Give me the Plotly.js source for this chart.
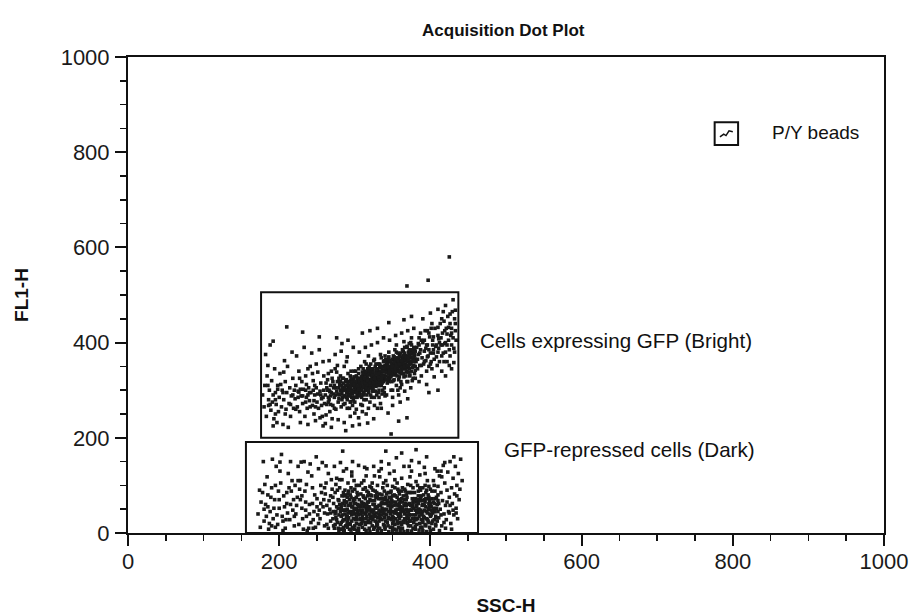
<!DOCTYPE html>
<html>
<head>
<meta charset="utf-8">
<script src="https://cdn.plot.ly/plotly-3.0.1.min.js"></script>
<style>html,body{margin:0;padding:0;background:#fff;}#chart{width:915px;height:616px;}</style>
</head>
<body>
<div id="chart"></div>
<script>
// ---- DATA (SSC-H, FL1-H) ----
const brightPoints = [
[178,290],[180,265],[181,310],[183,245],[184,330],[186,280],[187,300],[189,258],[190,320],[191,275],[193,240],[194,345],[195,295],[196,270],[198,310],[199,255],[200,285],[201,335],[203,265],[204,300],[205,228],[206,280],[208,318],[209,260],[210,295],[211,350],[213,272],[214,305],[215,245],[216,288],[218,325],[219,262],[220,300],[182,375],[188,395],[197,232],[207,362],[212,222],[217,380],[185,352],[192,290],[202,312],[186,268],[195,250],[206,338],[192,403],[210,433],[231,422],[192,225],
[221,282],[222,310],[224,265],[225,298],[226,340],[227,255],[229,288],[230,318],[231,272],[232,302],[234,245],[235,330],[236,285],[237,262],[239,305],[240,278],[241,350],[242,295],[244,268],[245,320],[246,250],[247,290],[249,305],[250,275],[251,338],[252,262],[254,298],[255,315],[256,282],[257,245],[258,360],[259,300],[260,272],[223,372],[228,232],[233,390],[238,228],[243,378],[248,236],[253,385],[258,225],[226,296],[231,288],[236,312],[241,265],[246,278],[251,292],[256,268],[244,335],[238,345],[249,355],[253,412],[222,260],[235,300],[247,310],[259,330],[254,242],[240,295],[227,325],
[261,290],[262,315],[263,270],[264,300],[265,335],[266,280],[267,255],[268,310],[269,295],[270,325],[271,268],[272,305],[273,285],[274,345],[275,260],[276,298],[277,318],[278,275],[279,305],[280,290],[281,330],[282,265],[283,310],[284,285],[285,300],[286,350],[287,272],[288,318],[289,295],[290,280],[291,335],[292,305],[293,262],[294,292],[295,320],[296,285],[297,310],[298,298],[299,340],[300,275],[262,248],[266,362],[270,240],[274,375],[278,238],[282,382],[286,232],[290,370],[294,245],[298,390],[264,322],[268,288],[272,292],[276,338],[280,312],[284,325],[288,302],[292,288],[296,300],[300,318],[263,305],[267,297],[271,318],[275,290],[279,282],[283,295],[287,288],[291,296],[295,276],[299,305],[265,275],[269,340],[273,262],[277,352],[281,300],[285,270],[289,360],[293,318],[297,268],[276,410],[288,215],[269,222],[297,225],[283,398],[261,230],[291,405],[285,315],[279,325],[273,310],[266,300],[294,330],[298,285],
[301,300],[302,330],[303,285],[304,315],[305,345],[306,295],[307,325],[308,270],[309,308],[310,338],[311,290],[312,318],[313,360],[314,300],[315,280],[316,330],[317,312],[318,295],[319,350],[320,322],[321,305],[322,285],[323,340],[324,315],[325,298],[326,365],[327,328],[328,308],[329,290],[330,345],[331,318],[332,300],[333,335],[334,375],[335,310],[336,292],[337,350],[338,325],[339,305],[340,340],[302,260],[306,380],[310,255],[314,390],[318,262],[322,395],[326,268],[330,400],[334,272],[338,410],[304,298],[308,312],[312,305],[316,290],[320,335],[324,345],[328,320],[332,328],[336,315],[340,322],[303,318],[307,302],[311,330],[315,318],[319,308],[323,325],[327,298],[331,355],[335,340],[339,330],[305,288],[309,322],[313,340],[317,345],[321,290],[325,330],[329,312],[333,310],[337,300],[305,242],[315,250],[325,240],[335,262],[310,420],[320,425],[330,430],[340,372],[312,280],[322,312],[332,285],[318,372],[328,355],[338,360],[308,350],[301,340],[326,285],[336,332],[316,305],[311,295],[321,355],[331,338],[303,302],[334,320],[324,300],
[341,330],[342,355],[343,315],[344,345],[345,370],[346,325],[347,350],[348,300],[349,338],[350,365],[351,320],[352,348],[353,385],[354,332],[355,310],[356,358],[357,342],[358,322],[359,375],[360,350],[361,335],[362,312],[363,368],[364,345],[365,328],[366,390],[367,355],[368,338],[369,318],[370,372],[371,348],[372,330],[373,360],[374,400],[375,340],[376,320],[377,378],[378,352],[379,335],[380,365],[342,290],[346,405],[350,285],[354,415],[358,290],[362,420],[366,298],[370,425],[374,305],[378,430],[344,328],[348,342],[352,336],[356,330],[360,362],[364,372],[368,352],[372,345],[376,348],[380,350],[343,342],[347,335],[351,355],[355,345],[359,338],[363,352],[367,330],[371,380],[375,360],[379,385],[345,318],[349,352],[353,360],[357,362],[361,318],[365,355],[369,340],[373,332],[377,325],[350,268],[360,275],[370,282],[345,442],[365,448],[375,455],[355,380],[367,372],[357,300],[372,398],[362,340],[352,322],
[381,360],[382,390],[383,345],[384,375],[385,410],[386,352],[387,385],[388,330],[389,368],[390,400],[391,355],[392,382],[393,425],[394,362],[395,340],[396,395],[397,372],[398,350],[399,412],[400,378],[401,360],[402,345],[403,405],[404,385],[405,365],[406,430],[407,392],[408,370],[409,352],[410,415],[411,388],[412,360],[413,440],[414,395],[415,372],[416,420],[417,378],[418,445],[419,398],[420,380],[421,430],[422,360],[423,455],[424,405],[425,385],[426,440],[427,415],[428,395],[429,465],[430,410],[431,388],[432,450],[433,425],[434,405],[385,318],[395,312],[405,328],[415,340],[425,352],[390,450],[400,462],[410,470],[420,478],[430,490],[384,398],[392,360],[398,385],[404,412],[410,380],[416,395],[422,418],[428,420],[388,405],[396,425],[402,440],[408,395],[414,410],[420,400],[426,372],[432,380],[386,378],[394,388],[400,355],[412,400],[418,360],[424,432],[433,440],[398,295],[410,300],[420,330],[431,358],[428,345],
[344,252],[317,231],[348,208],[369,242],[306,228],[358,235],[425,580],[397,531],[369,519],
[282,292],[284,305],[286,288],[288,310],[290,296],[292,318],[294,300],[296,312],[298,322],[300,296],[302,308],[304,325],[306,312],[308,300],[310,330],[312,296],[314,322],[316,338],[318,318],[320,305],[322,330],[324,322],[326,310],[328,342],[330,325],[332,316],[334,348],[336,338],[338,318],[340,352],[342,338],[344,322],[346,360],[348,345],[350,332],[352,370],[354,350],[356,340],[358,365],[360,355],[362,345],[364,382],[366,362],[368,348],[370,360],[372,375],[374,355],[376,385],[378,368],[380,342],
[285,325],[295,340],[305,335],[315,355],[325,362],[335,368],[345,380],[355,395],[365,402],[375,410],[290,262],[300,252],[310,268],[320,275],[330,262],[340,288],[350,300],[360,305],[370,318],[380,325],
[287,300],[297,292],[307,318],[317,325],[327,315],[337,342],[347,328],[357,352],[367,345],[377,362],[283,280],[293,310],[303,290],[313,312],[323,298],[333,352],[343,360],[353,338],[363,362],[373,368],
[281,318],[289,285],[299,328],[309,285],[319,340],[329,335],[339,295],[349,318],[359,328],[369,390],[379,372],[301,315],[311,345],[321,318],[331,295],[341,365],[351,342],[361,378],[371,338],[306,305],[314,332],[324,335],[334,328],[344,340],[354,362],[364,335],[374,382],
[385,395],[392,405],[398,420],[404,378],[410,432],[415,450],[422,395],[428,430],[433,468],[388,352],[396,370],[403,395],[411,408],[419,425],[426,460],[387,420],[401,430],[417,465],[383,365],[395,395],
[185,310],[195,280],[205,295],[215,270],[225,285],[235,275],[245,300],[255,290],[265,285],[275,305],[188,270],[198,302],[208,250],[218,290],[228,302],[238,290],[248,265],[258,285],[268,270],[278,292],
[291,288],[291,312],[294,275],[294,305],[297,295],[297,318],[300,285],[300,310],[303,298],[303,325],[306,290],[306,320],[309,300],[309,328],[312,292],[312,335],[315,305],[315,338],[318,300],[318,332],[321,312],[321,345],[324,305],[324,338],[327,318],[327,350],[330,310],[330,340],[333,322],[333,355],[336,318],[336,348],[339,328],[339,362],[342,322],[342,348],[345,335],[345,365],[348,330],[348,358],[351,340],[351,372],[354,338],[354,365],[357,348],[357,378],[360,342],[360,370],[363,355],[363,385],[366,350],[366,378],[369,362],[369,392],[372,355],[372,385],[375,368],[375,395],[378,360],[378,390],
[292,300],[295,325],[298,280],[301,318],[304,308],[307,290],[310,315],[313,325],[316,312],[319,340],[322,322],[325,315],[328,335],[331,328],[334,340],[337,330],[340,345],[343,355],[346,342],[349,345],[352,358],[355,352],[358,362],[361,358],[364,365],[367,368],[370,352],[373,372],[376,378],[379,375],
[287,305],[289,322],[293,290],[296,298],[299,312],[302,295],[305,302],[308,322],[311,308],[314,315],[317,320],[320,315],[323,332],[326,325],[329,345],[332,335],[335,325],[338,340],[341,338],[344,350],[347,362],[350,350],[353,345],[356,368],[359,355],[362,362],[365,372],[368,370],[371,365],[374,378],[377,370],[380,382]
];
const darkPoints = [
[172,40],[175,12],[178,85],[180,25],[182,60],[184,118],[186,8],[188,45],[190,95],[192,30],[194,70],[196,140],[198,18],[200,52],[202,105],[204,35],[206,78],[208,10],[210,62],[212,125],[214,28],[216,88],[218,48],[220,15],[176,65],[181,102],[187,20],[193,52],[199,88],[205,5],[211,42],[217,110],[183,35],[189,75],[195,12],[201,130],[207,55],[213,95],[219,70],[179,150],[191,155],[203,165],[215,150],[174,90],[185,55],[197,38],[209,28],[221,100],[201,149],
[222,40],[224,75],[226,18],[228,110],[230,52],[232,8],[234,88],[236,35],[238,128],[240,60],[242,22],[244,95],[246,45],[248,12],[250,72],[252,135],[254,30],[256,85],[258,55],[260,15],[262,105],[264,40],[266,68],[268,25],[270,92],[223,58],[227,92],[231,30],[235,65],[239,10],[243,120],[247,80],[251,38],[255,100],[259,70],[263,18],[267,50],[225,140],[233,150],[241,145],[249,160],[257,148],[265,125],[229,149],[262,141],[237,5],[245,28],[253,48],[261,82],[269,112],[228,70],[236,102],[244,62],[252,20],[260,42],[268,78],
[271,30],[272,62],[273,10],[274,85],[275,45],[276,115],[277,22],[278,70],[279,38],[280,95],[281,8],[282,55],[283,78],[284,25],[285,130],[286,48],[287,90],[288,15],[289,65],[290,35],[291,105],[292,58],[293,20],[294,80],[295,42],[296,120],[297,12],[298,68],[299,50],[300,92],[301,28],[302,75],[303,5],[304,60],[305,38],[306,100],[307,18],[308,82],[309,45],[310,62],[311,30],[312,110],[313,8],[314,72],[315,52],[316,88],[317,22],[318,65],[319,40],[320,98],[272,45],[276,28],[280,60],[284,48],[288,80],[292,32],[296,55],[300,15],[304,42],[308,28],[312,55],[316,35],[320,70],[274,18],[278,52],[282,35],[286,68],[290,18],[294,45],[298,30],[302,50],[306,70],[310,12],[314,40],[318,25],[273,140],[281,148],[289,135],[297,150],[305,142],[313,138],[284,172],[275,102],[283,112],[291,82],[299,110],[307,58],[315,120],[279,5],[287,40],[295,95],[303,85],[311,78],[319,10],[271,75],[277,90],[285,12],[293,70],[301,62],[309,105],[317,52],
[321,35],[322,68],[323,15],[324,90],[325,48],[326,120],[327,25],[328,75],[329,42],[330,100],[331,10],[332,58],[333,82],[334,30],[335,135],[336,52],[337,95],[338,18],[339,70],[340,40],[341,110],[342,62],[343,22],[344,85],[345,45],[346,125],[347,12],[348,72],[349,55],[350,98],[351,32],[352,80],[353,8],[354,65],[355,42],[356,105],[357,20],[358,88],[359,50],[360,68],[361,35],[362,115],[363,10],[364,78],[365,58],[366,92],[367,28],[368,70],[369,45],[370,102],[371,15],[372,62],[373,85],[374,38],[375,130],[376,55],[377,95],[378,22],[379,72],[380,48],[381,108],[382,65],[383,30],[384,88],[385,50],[386,122],[387,12],[388,78],[389,58],[390,95],[391,35],[392,70],[393,18],[394,85],[395,45],[396,110],[397,25],[398,62],[399,40],[400,92],
[322,45],[326,60],[330,32],[334,72],[338,50],[342,38],[346,58],[350,20],[354,48],[358,35],[362,52],[366,40],[370,60],[374,25],[378,52],[382,42],[386,68],[390,28],[394,55],[398,50],[324,28],[328,52],[332,40],[336,80],[340,62],[344,30],[348,45],[352,58],[356,75],[360,40],[364,25],[368,50],[372,38],[376,72],[380,30],[384,62],[388,40],[392,48],[396,72],[400,35],[325,140],[335,150],[345,145],[355,158],[365,140],[375,152],[385,148],[395,160],[330,5],[340,8],[350,5],[360,10],[370,5],[380,8],[390,5],[323,105],[333,118],[343,100],[353,112],[363,95],[373,118],[383,100],[393,125],[327,88],[337,62],[347,85],[357,58],[367,88],[377,65],[387,90],[397,80],[341,172],[362,168],[381,175],[329,22],[339,32],[349,68],[359,82],[369,22],[379,85],[389,38],[399,12],
[401,55],[402,88],[403,25],[404,110],[405,45],[406,135],[407,18],[408,75],[409,60],[410,98],[411,32],[412,120],[413,50],[414,85],[415,15],[416,68],[417,142],[418,40],[419,105],[420,58],[421,28],[422,90],[423,128],[424,45],[425,75],[426,150],[427,20],[428,95],[429,62],[430,115],[431,38],[432,82],[433,140],[434,52],[435,100],[436,30],[437,125],[438,70],[440,155],[442,110],[404,8],[412,5],[420,10],[428,8],[409,130],[419,148],[431,160],[406,72],[414,38],[422,65],[430,48],[405,100],[415,118],[425,42],[435,78],[439,92],
[272,15],[275,32],[278,10],[281,45],[284,62],[287,28],[290,50],[293,8],[296,38],[299,72],[302,20],[305,55],[308,40],[311,92],[314,18],[317,65],[320,30],[323,48],[326,12],[329,85],[332,25],[335,62],[338,40],[341,75],[344,15],[347,52],[350,35],[353,95],[356,25],[359,62],[362,18],[365,45],[368,80],[371,30],[374,58],[377,10],[380,72],[383,45],[386,20],[389,68],[392,32],[395,90],[398,22],[401,48],[404,65],[407,35],[410,80],
[276,55],[282,22],[288,48],[294,62],[300,40],[306,18],[312,75],[318,48],[324,60],[330,78],[336,28],[342,50],[348,88],[354,30],[360,55],[366,70],[372,48],[378,38],[384,78],[390,60],[396,42],[402,72],[408,52],
[279,68],[285,85],[291,28],[297,88],[303,45],[309,65],[315,30],[321,80],[327,55],[333,10],[339,88],[345,65],[351,45],[357,92],[363,65],[369,35],[375,85],[381,55],[387,48],[393,100],[399,68],[405,28],[411,62],
[274,40],[286,5],[298,10],[310,48],[322,95],[334,45],[346,30],[358,12],[370,85],[382,18],[394,15],[406,88],[418,22],[426,58],[434,42],
[290,75],[302,100],[314,95],[326,40],[338,105],[350,78],[362,88],[374,100],[386,95],[398,98],[410,45],[280,112],[296,128],[316,135],[332,130],[352,130],[372,140],[392,138],[414,130],
[180,50],[190,15],[200,70],[210,85],[220,35],[230,78],[240,40],[250,55],[260,95],[265,10],[185,80],[195,100],[205,25],[215,60],[225,110],[235,48],[245,10],[255,62],[263,58],[268,42],
[281,18],[284,38],[287,58],[290,12],[293,45],[296,25],[299,62],[302,35],[305,10],[308,55],[311,42],[314,22],[317,78],[320,50],[323,30],[326,68],[329,15],[332,48],[335,38],[338,72],[341,25],[344,58],[347,40],[350,65],[353,18],[356,50],[359,30],[362,72],[365,22],[368,58],[371,45],[374,15],[377,62],[380,38],[383,70],[386,42],[389,12],[392,58],[395,30],[398,75],[401,38],[404,52],[407,15],[410,68],
[282,50],[285,28],[288,65],[291,42],[294,18],[297,55],[300,70],[303,28],[306,48],[309,20],[312,62],[315,45],[318,85],[321,22],[324,42],[327,78],[330,55],[333,35],[336,65],[339,15],[342,82],[345,32],[348,62],[351,25],[354,78],[357,40],[360,22],[363,52],[366,30],[369,75],[372,25],[375,48],[378,68],[381,28],[384,50],[387,75],[390,45],[393,65],[396,28],[399,58],[402,20],[405,62],[408,32],
[283,8],[289,35],[295,75],[301,52],[307,30],[313,60],[319,55],[325,35],[331,72],[337,45],[343,68],[349,28],[355,60],[361,45],[367,62],[373,48],[379,28],[385,35],[391,80],[397,52],[403,42],[409,25],[286,78],[292,88],[298,45],[304,80],[310,35],[316,58],[322,78],[328,35],[334,58],[340,48],[346,75],[352,42],[358,70],[364,48],[370,38],[376,30],[382,58],[388,28],[394,72],[400,62],[406,45],
[285,3],[295,6],[305,3],[315,5],[325,8],[335,5],[345,3],[355,6],[365,3],[375,4],[385,6],[395,3],[300,8],[320,3],[340,12],[360,3],[380,14],[400,5],[290,22],[310,25],[330,18],[350,12],[370,20],[390,22]
];
// gate regions [ssc0, ssc1, fl0, fl1]
const gateBright = [176, 437, 200, 506];
const gateDark = [156, 463, 0, 191];
const gateLabels = ["Cells expressing GFP (Bright)", "GFP-repressed cells (Dark)"];
const legendLabel = "P/Y beads";
const xTicks = [0, 200, 400, 600, 800, 1000];
const yTicks = [0, 200, 400, 600, 800, 1000];

const allPts = brightPoints.concat(darkPoints);
const trace = {
  x: allPts.map(p => p[0]),
  y: allPts.map(p => p[1]),
  type: 'scatter', mode: 'markers',
  marker: {symbol: 'square', size: 3.6, color: '#1a1a1a', line: {width: 0}},
  hoverinfo: 'x+y', showlegend: false
};

const font = 'Liberation Sans, Arial, Helvetica, sans-serif';
const axisCommon = {
  range: [0, 1000], showgrid: false, zeroline: false,
  showline: true, linecolor: '#111', linewidth: 2, mirror: true,
  ticks: 'outside', ticklen: 11, tickwidth: 2, tickcolor: '#111',
  tickfont: {family: font, size: 22, color: '#1a1a1a'},
  minor: {dtick: 50, ticks: 'outside', ticklen: 6, tickwidth: 1.5, tickcolor: '#111', showgrid: false}
};

const layout = {
  width: 915, height: 616,
  margin: {l: 128, r: 31, t: 57, b: 83},
  paper_bgcolor: '#fff', plot_bgcolor: '#fff',
  title: {text: '<b>Acquisition Dot Plot</b>', font: {family: font, size: 17, color: '#111'}, x: 0.55, xanchor: 'center', y: 0.952, yanchor: 'middle'},
  xaxis: Object.assign({}, axisCommon, {tickvals: xTicks, ticktext: xTicks.map(String), ticklabelstandoff: -3,
    title: {text: '<b>SSC-H</b>', font: {family: font, size: 19, color: '#111'}, standoff: 25}}),
  yaxis: Object.assign({}, axisCommon, {tickvals: yTicks, ticktext: yTicks.map(String), ticklabelstandoff: 1,
    title: {text: '<b>FL1-H</b>', font: {family: font, size: 19, color: '#111'}, standoff: 27}}),
  shapes: [
    {type: 'rect', xref: 'x', yref: 'y', x0: gateBright[0], x1: gateBright[1], y0: gateBright[2], y1: gateBright[3], line: {color: '#111', width: 2}, fillcolor: 'rgba(0,0,0,0)'},
    {type: 'rect', xref: 'x', yref: 'y', x0: gateDark[0], x1: gateDark[1], y0: gateDark[2], y1: gateDark[3], line: {color: '#111', width: 2}, fillcolor: 'rgba(0,0,0,0)'},
    // legend icon box
    {type: 'rect', xref: 'x', yref: 'y', x0: 776, x1: 807, y0: 815, y1: 863, line: {color: '#111', width: 2}, fillcolor: 'rgba(0,0,0,0)'},
    {type: 'path', xref: 'x', yref: 'y', path: 'M 783,832 L 788,838 L 791,835 L 795,845 L 800,843', line: {color: '#111', width: 1.5}}
  ],
  annotations: [
    {x: 463, y: 405, xref: 'x', yref: 'y', text: gateLabels[0], showarrow: false, xanchor: 'left', yanchor: 'middle', font: {family: font, size: 20.6, color: '#111'}},
    {x: 495, y: 176, xref: 'x', yref: 'y', text: gateLabels[1], showarrow: false, xanchor: 'left', yanchor: 'middle', font: {family: font, size: 20.6, color: '#111'}},
    {x: 849, y: 842, xref: 'x', yref: 'y', text: legendLabel, showarrow: false, xanchor: 'left', yanchor: 'middle', font: {family: font, size: 19, color: '#111'}}
  ]
};

Plotly.newPlot('chart', [trace], layout, {displayModeBar: false, staticPlot: true});
</script>
</body>
</html>
